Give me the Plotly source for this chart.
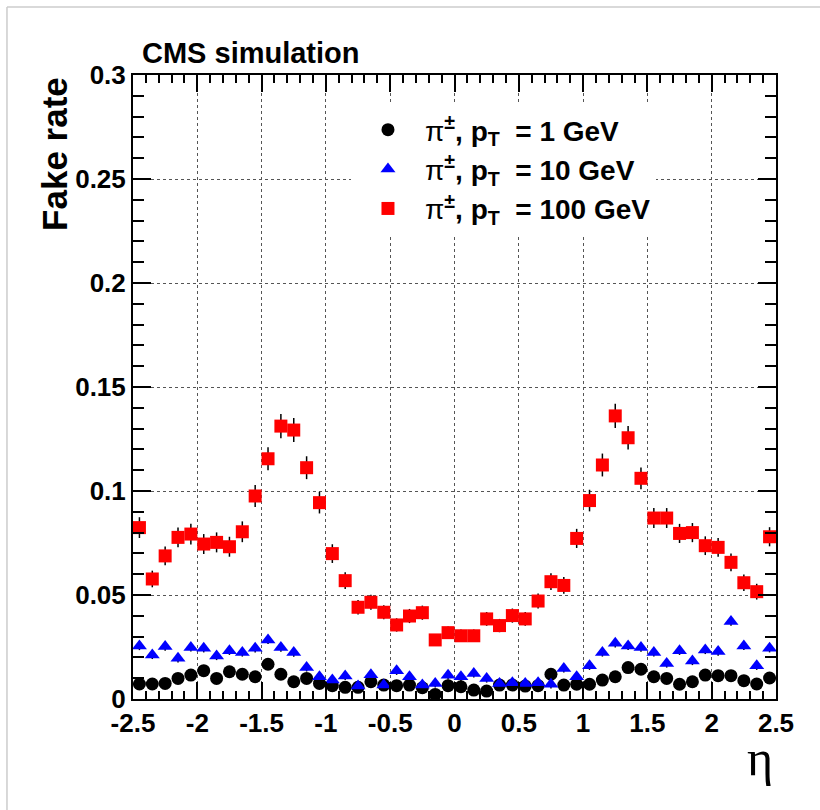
import plotly.graph_objects as go

# eta bin centres (50 bins of width 0.1 between -2.5 and 2.5)
eta = [round(-2.45 + 0.1 * i, 2) for i in range(50)]

# fake rate for pi+- at pT = 1 GeV
rate_1gev = [0.0072, 0.0072, 0.0075, 0.0099, 0.0115, 0.0136, 0.0099, 0.0131, 0.0119, 0.0107,
             0.0167, 0.0119, 0.0083, 0.0099, 0.0075, 0.0064, 0.0056, 0.0056, 0.0083, 0.0067,
             0.0064, 0.0067, 0.0054, 0.0022, 0.0064, 0.0059, 0.0043, 0.0038, 0.0067, 0.0067,
             0.0062, 0.0064, 0.0119, 0.0067, 0.0071, 0.0071, 0.0091, 0.0107, 0.0151, 0.0143,
             0.0107, 0.0099, 0.0071, 0.0083, 0.0115, 0.0112, 0.0112, 0.0088, 0.0072, 0.0101]
err_1gev = [0.0012] * 50

# fake rate for pi+- at pT = 10 GeV
rate_10gev = [0.0255, 0.0212, 0.0252, 0.0196, 0.0248, 0.0244, 0.0207, 0.0232, 0.0224, 0.0244,
              0.0284, 0.0247, 0.0223, 0.0152, 0.0107, 0.0091, 0.0111, 0.0063, 0.0117, 0.0067,
              0.0136, 0.0107, 0.0067, 0.0075, 0.0114, 0.0107, 0.0123, 0.0099, 0.0075, 0.0078,
              0.0075, 0.0078, 0.0071, 0.0147, 0.0107, 0.0160, 0.0224, 0.0268, 0.0255, 0.0247,
              0.0224, 0.0171, 0.0232, 0.0183, 0.0236, 0.0228, 0.0372, 0.0255, 0.0160, 0.0244]
err_10gev = [0.002] * 50

# fake rate for pi+- at pT = 100 GeV
rate_100gev = [0.0824, 0.0577, 0.0688, 0.0777, 0.0793, 0.0745, 0.0753, 0.0732, 0.0804, 0.0976,
               0.1155, 0.1312, 0.1293, 0.1112, 0.0944, 0.0699, 0.0569, 0.0441, 0.0465, 0.0417,
               0.0356, 0.0399, 0.0415, 0.0284, 0.0319, 0.0304, 0.0304, 0.0385, 0.0353, 0.0401,
               0.0385, 0.0471, 0.0564, 0.0546, 0.0772, 0.0954, 0.1125, 0.1361, 0.1256, 0.1061,
               0.0870, 0.0870, 0.0796, 0.0800, 0.0737, 0.0729, 0.0657, 0.0559, 0.0516, 0.0780]
err_100gev = [0.0050, 0.0040, 0.0045, 0.0048, 0.0050, 0.0048, 0.0048, 0.0048, 0.0050, 0.0053,
              0.0055, 0.0058, 0.0058, 0.0055, 0.0052, 0.0045, 0.0040, 0.0035, 0.0036, 0.0034,
              0.0032, 0.0034, 0.0034, 0.0028, 0.0030, 0.0030, 0.0030, 0.0033, 0.0032, 0.0034,
              0.0033, 0.0036, 0.0040, 0.0040, 0.0046, 0.0052, 0.0055, 0.0058, 0.0056, 0.0052,
              0.0048, 0.0048, 0.0046, 0.0046, 0.0045, 0.0045, 0.0043, 0.0040, 0.0038, 0.0046]

x_ticks = [-2.5, -2, -1.5, -1, -0.5, 0, 0.5, 1, 1.5, 2, 2.5]
x_ticklabels = ["-2.5", "-2", "-1.5", "-1", "-0.5", "0", "0.5", "1", "1.5", "2", "2.5"]
y_ticks = [0, 0.05, 0.1, 0.15, 0.2, 0.25, 0.3]
y_ticklabels = ["0", "0.05", "0.1", "0.15", "0.2", "0.25", "0.3"]

SANS = "Liberation Sans, Arial, Helvetica, sans-serif"


def legend_label(energy):
    return ("<span style='font-weight:normal'>π</span><sup>±</sup>, "
            "p<sub>T</sub>\u00a0\u00a0= " + energy)


series = [
    (legend_label("1 GeV"), rate_1gev, err_1gev, "black", "circle"),
    (legend_label("10 GeV"), rate_10gev, err_10gev, "#0000ff", "triangle-up"),
    (legend_label("100 GeV"), rate_100gev, err_100gev, "#ff0000", "square"),
]

fig = go.Figure()
for name, y, err, color, symbol in series:
    fig.add_trace(go.Scatter(
        x=eta, y=y, mode="markers", name=name,
        marker=dict(color=color, symbol=symbol, size=13, line=dict(width=0)),
        error_y=dict(type="data", array=err, color="black", thickness=1.5, width=0),
    ))

axis_common = dict(
    showline=True, linecolor="black", linewidth=2, mirror="ticks",
    ticks="inside", tickcolor="black", tickwidth=2,
    showgrid=True, gridcolor="#555555", griddash="dot", gridwidth=1,
    zeroline=False,
    tickfont=dict(family=SANS, size=26, color="black", weight="bold"),
)

fig.update_xaxes(
    range=[-2.5, 2.5], tickvals=x_ticks, ticktext=x_ticklabels, ticklen=17,
    minor=dict(ticks="inside", dtick=0.1, tick0=-2.5, ticklen=8, tickcolor="black",
               tickwidth=1.5, showgrid=False),
    **axis_common,
)
fig.update_yaxes(
    range=[0, 0.3], tickvals=y_ticks, ticktext=y_ticklabels, ticklen=18,
    minor=dict(ticks="inside", dtick=0.01, tick0=0, ticklen=11, tickcolor="black",
               tickwidth=1.5, showgrid=False),
    **axis_common,
)

fig.update_layout(
    width=820, height=810,
    margin=dict(l=133, r=44, t=75, b=111),
    paper_bgcolor="white", plot_bgcolor="white",
    showlegend=True,
    legend=dict(
        x=0.339, y=0.952, xanchor="left", yanchor="top",
        bgcolor="white", borderwidth=0,
        font=dict(family=SANS, size=28, color="black", weight="bold"),
        itemwidth=64, tracegroupgap=0,
    ),
    annotations=[
        dict(text="CMS simulation", x=0.011, y=1.035, xref="paper", yref="paper",
             xanchor="left", yanchor="middle", showarrow=False,
             font=dict(family=SANS, size=29, color="black", weight="bold")),
        dict(text="Fake rate", x=-0.123, y=1.0, xref="paper", yref="paper",
             xanchor="center", yanchor="top", textangle=-90, showarrow=False,
             font=dict(family=SANS, size=35, color="black", weight="bold")),
        dict(text="η", x=0.975, y=-0.095, xref="paper", yref="paper",
             xanchor="center", yanchor="middle", showarrow=False,
             font=dict(family="Liberation Serif, Times New Roman, serif", size=50, color="black")),
    ],
    shapes=[
        dict(type="line", xref="paper", yref="paper", x0=-0.196, x1=1.1, y0=1.109, y1=1.109,
             line=dict(color="#cccccc", width=1.5)),
        dict(type="line", xref="paper", yref="paper", x0=-0.196, x1=-0.196, y0=1.109, y1=-0.2,
             line=dict(color="#cccccc", width=1.5)),
    ],
)

fig.write_html("out.html")
